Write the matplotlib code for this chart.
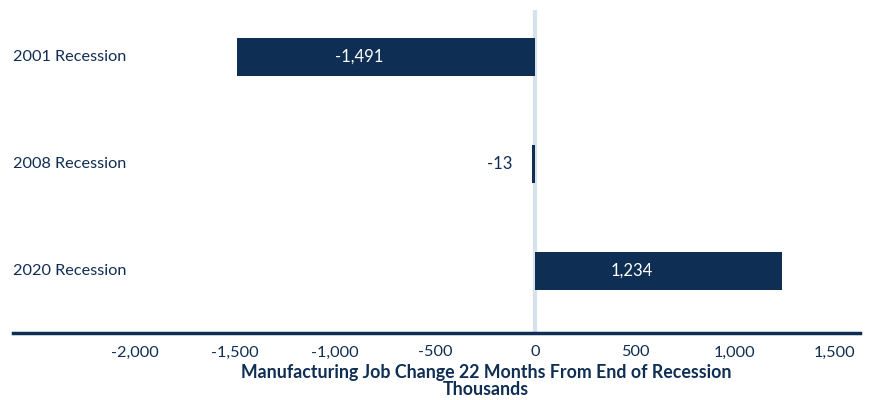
import matplotlib.pyplot as plt

# manufacturing job change, thousands
recessions = ['2001 Recession', '2008 Recession', '2020 Recession']
job_change = [-1491, -13, 1234]
tick_vals = [-2000, -1500, -1000, -500, 0, 500, 1000, 1500]

navy = '#0f2e53'
plt.rcParams['font.family'] = ['Lato', 'DejaVu Sans']

fig = plt.figure(figsize=(8.72, 4), dpi=100)
ax = fig.add_axes([13/872, 67/400, 847/872, 323/400])

ypos = list(range(len(recessions)))
ax.barh(ypos, job_change, height=0.355, color=navy, zorder=3)
ax.axvline(0, color='#d6e1ed', lw=3, zorder=2)

for y, v in zip(ypos, job_change):
    txt = f'{v:,}'
    if abs(v) > 200:
        ax.text(v / 2 - 135, y, txt, ha='center', va='center', color='white', fontsize=12, zorder=4)
    else:
        ax.text(v - 100, y, txt, ha='right', va='center', color=navy, fontsize=12, zorder=4)

# category names sit inside the plot at the left edge
for y, name in zip(ypos, recessions):
    ax.text(0.0, y, name, transform=ax.get_yaxis_transform(), ha='left', va='center',
            color=navy, fontsize=11.7)

ax.set_xlim(-2610, 1625)
ax.set_ylim(2.58, -0.44)
ax.set_yticks([])
ax.set_xticks(tick_vals)
ax.set_xticklabels([f'{t:,}' for t in tick_vals])
ax.tick_params(axis='x', length=0, pad=9, labelsize=11.7, labelcolor=navy)

for s in ['top', 'right', 'left']:
    ax.spines[s].set_visible(False)
ax.spines['bottom'].set_color(navy)
ax.spines['bottom'].set_linewidth(2.5)

fig.text(486/872, 1 - 381/400, 'Manufacturing Job Change 22 Months From End of Recession\nThousands',
         ha='center', va='center', fontsize=12.8, fontweight='bold', color=navy, linespacing=1.0)

fig.savefig('out.png', dpi=100)
